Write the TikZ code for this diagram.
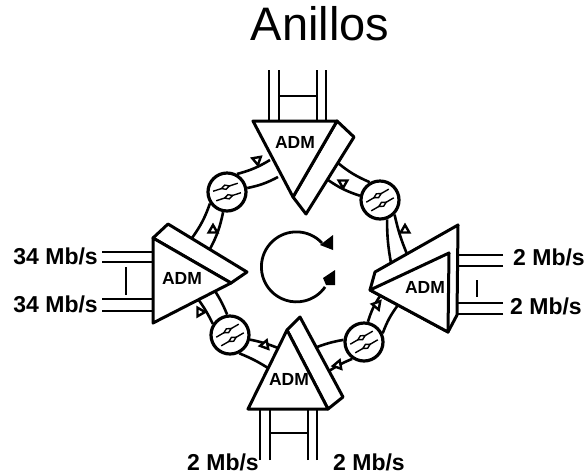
\documentclass[tikz,border=0pt]{standalone}
\usepackage{fontspec}
\setmainfont{Liberation Sans}
\usetikzlibrary{positioning}
\usetikzlibrary{shapes.geometric}
\tikzset{
    admbox/.style={line width=3pt, line join=round, fill=white},
    admtext/.style={inner sep=0pt, font=\fontsize{17.5}{17.5}\selectfont\bfseries},
    ratetext/.style={inner sep=0pt, font=\fontsize{23}{23}\selectfont\bfseries},
    busline/.style={line width=2.4pt},
    barline/.style={line width=1.4pt},
    ringline/.style={line width=2.6pt},
    regen/.style={circle, draw, fill=white, line width=3.2pt, minimum size=38pt, inner sep=0pt},
    fibreline/.style={line width=1.4pt},
    fibrehead/.style={diamond, draw, fill=white, line width=1.4pt, aspect=2, minimum width=9pt, minimum height=5pt, inner sep=0pt},
    ringtip/.style={regular polygon, regular polygon sides=3, draw, fill=white, line width=2.4pt, minimum size=10pt, inner sep=0pt}
}

\begin{document}
\begin{tikzpicture}[x=1pt, y=-1pt]
    \useasboundingbox (0,0) rectangle (585,475);

    \draw (320,40) node[anchor=base, inner sep=0pt, font=\fontsize{47}{47}\selectfont] (title) {Anillos};

    % regenerators on the ring
    \draw (227,192) node[regen] (tl) {};
    \draw (380,200) node[regen] (tr) {};
    \draw (364,342) node[regen] (br) {};
    \draw (230,335) node[regen] (bl) {};

    \foreach \name/\x/\y in {a1/270/160, a2/278/177, a3/192/238, a4/210/249,
                             b1/338/163, b2/328/180, b3/391/263, b4/407/254,
                             c1/380/296, c2/398/305, c3/317/347, c4/329/371,
                             d1/198/299, d2/215/291, d3/278/348, d4/268/368}{
        \coordinate (\name) at (\x,\y);
    }

    \foreach \from/\to/\bend in {tl.61/a1/-8, tl.11/a2/-8, tl.214/a3/8, tl.259/a4/8,
                                 tr.120/b1/8, tr.168/b2/8, tr.290/b3/-5, tr.315/b4/-5,
                                 br.79/c1/8, br.25/c2/8, br.174/c3/-5, br.235/c4/-5,
                                 bl.147/d1/-5, bl.98/d2/-5, bl.347/d3/5, bl.297/d4/5}{
        \draw[ringline] (\from) to[bend left=\bend] (\to);
    }

    \foreach \name/\x/\y/\turn in {t1/257/160/70, t2/213/230/0, t3/343/183/60, t4/405/230/0,
                                   t5/377/305/200, t6/338/365/100, t7/265/345/100, t8/200/312/30}{
        \draw (\x,\y) node[ringtip, rotate=\turn] (\name) {};
    }

    \foreach \circ/\turn in {tl/18, tr/30, br/30, bl/30}{
        \begin{scope}[shift={(\circ)}, rotate=\turn, transform shape]
            \draw[fibreline] (-13,-5) -- node[fibrehead] (\circ up) {} (13,-5);
            \draw[fibreline] (-13,5) -- node[fibrehead] (\circ down) {} (13,5);
        \end{scope}
    }

    % the four multiplexers
    \draw[admbox] (293,197) -- (306,214) -- (354,137) -- (337,121) -- cycle;
    \draw[admbox] (253,121) -- (337,121) -- (293,197) -- cycle;
    \draw (295,142) node[admtext] (topadm) {ADM};
    \coordinate (topbase) at (295,121);

    \draw[admbox] (153,238) -- (168,224) -- (247,272) -- (231,283) -- cycle;
    \draw[admbox] (153,238) -- (231,283) -- (153,323) -- cycle;
    \draw (182,278) node[admtext] (leftadm) {ADM};
    \coordinate (leftbase) at (153,280);

    \draw[admbox] (370,290) -- (375,272) -- (458,225) -- (457,315) -- (448,332) -- cycle;
    \draw[admbox] (370,290) -- (449,253) -- (448,332) -- cycle;
    \draw (425,287) node[admtext] (rightadm) {ADM};
    \coordinate (rightbase) at (457,280);

    \draw[admbox] (287,330) -- (300,317) -- (343,397) -- (328,409) -- cycle;
    \draw[admbox] (287,330) -- (328,409) -- (248,409) -- cycle;
    \draw (289,379) node[admtext] (bottomadm) {ADM};
    \coordinate (bottombase) at (290,409);

    % tributaries
    \foreach \x [count=\i] in {269,279,317,326}{
        \coordinate (topf\i) at (\x,70);
        \draw[busline] (topf\i) -- (topf\i |- topbase);
    }
    \foreach \x [count=\i] in {260,270,308,317}{
        \coordinate (botf\i) at (\x,460);
        \draw[busline] (botf\i) -- (botf\i |- bottombase);
    }
    \foreach \y [count=\i] in {252,262,299,311}{
        \coordinate (leftf\i) at (102,\y);
        \draw[busline] (leftf\i) -- (leftf\i -| leftbase);
    }
    \foreach \y [count=\i] in {255,266,303,314}{
        \coordinate (rightf\i) at (503,\y);
        \draw[busline] (rightf\i) -- (rightf\i -| rightbase);
    }

    \coordinate (topbar) at (298,96);
    \coordinate (botbar) at (290,433);
    \draw[barline] (topf2 |- topbar) -- (topf3 |- topbar);
    \draw[barline] (botf2 |- botbar) -- (botf3 |- botbar);
    \coordinate (leftbar1) at (126,267);
    \coordinate (leftbar2) at (126,295);
    \coordinate (rightbar1) at (477,280);
    \coordinate (rightbar2) at (477,297);
    \draw[barline] (leftbar1) -- (leftbar2);
    \draw[barline] (rightbar1) -- (rightbar2);

    \draw (98,264) node[ratetext, anchor=base east] (rate1) {34 Mb/s};
    \draw (98,312) node[ratetext, anchor=base east] (rate2) {34 Mb/s};
    \draw (513,265) node[ratetext, anchor=base west] (rate3) {2 Mb/s};
    \draw (510,314) node[ratetext, anchor=base west] (rate4) {2 Mb/s};
    \draw (259,470) node[ratetext, anchor=base east] (rate5) {2 Mb/s};
    \draw (333,470) node[ratetext, anchor=base west] (rate6) {2 Mb/s};

    % direction of rotation
    \coordinate (loopstart) at (322,243);
    \draw[line width=2.8pt] (loopstart) arc[start angle=43, end angle=325, radius=35pt];
    \fill (320,245) -- (333,235) -- (333,250) -- cycle;
    \fill (323,278) -- (335,270) -- (335,285) -- (326,285) -- cycle;
\end{tikzpicture}
\end{document}
